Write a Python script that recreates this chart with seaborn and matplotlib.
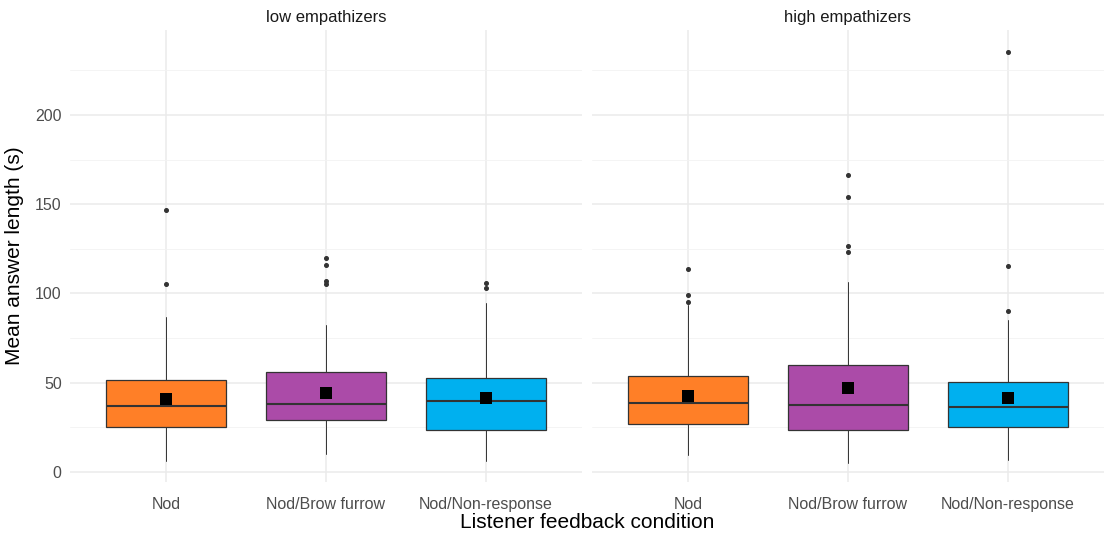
import seaborn as sns
import matplotlib.pyplot as plt
import pandas as pd
from matplotlib.ticker import MultipleLocator

conditions = ["Nod", "Nod/Brow furrow", "Nod/Non-response"]
groups = ["low empathizers", "high empathizers"]
colors = ["#FF7F27", "#AB4BA8", "#00B0EF"]

# box summaries, per condition
low_whislo = [6.3, 9.9, 5.9]
low_q1 = [25.1, 29.3, 23.6]
low_med = [36.9, 38.2, 39.5]
low_q3 = [51.3, 55.9, 52.7]
low_whishi = [86.9, 82.1, 94.9]
low_mean = [40.9, 44.1, 41.4]
low_fliers = [[147.0, 105.3], [120.0, 116.0, 106.8, 105.5], [105.9, 103.2]]

high_whislo = [9.5, 5.3, 6.5]
high_q1 = [27.0, 23.6, 25.3]
high_med = [38.6, 37.6, 36.5]
high_q3 = [53.6, 59.7, 50.6]
high_whishi = [93.5, 106.5, 85.2]
high_mean = [42.4, 47.0, 41.4]
high_fliers = [[113.9, 99.4, 95.1], [166.2, 154.0, 126.6, 123.4], [235.2, 115.2, 90.3]]

panels = {
    "low empathizers": (low_whislo, low_q1, low_med, low_q3, low_whishi, low_mean, low_fliers),
    "high empathizers": (high_whislo, high_q1, high_med, high_q3, high_whishi, high_mean, high_fliers),
}

sns.set_theme(style="whitegrid")
plt.rcParams['font.family'] = ['Liberation Sans', 'DejaVu Sans']

fig = plt.figure(figsize=(11.04, 5.35), dpi=100)
W, H = 1104, 535
ax1 = fig.add_axes([70 / W, (H - 482) / H, 512 / W, 452 / H])
ax2 = fig.add_axes([592 / W, (H - 482) / H, 512 / W, 452 / H], sharey=ax1)

for ax, grp in zip([ax1, ax2], groups):
    wlo, q1, med, q3, whi, mean, fl = panels[grp]
    stats = []
    for i in range(3):
        stats.append(dict(whislo=wlo[i], q1=q1[i], med=med[i], q3=q3[i],
                          whishi=whi[i], fliers=fl[i], label=conditions[i]))
    bp = ax.bxp(stats, positions=[0, 1, 2], widths=0.75, patch_artist=True,
                showcaps=False,
                boxprops=dict(edgecolor="#333333", linewidth=0.9),
                medianprops=dict(color="#333333", linewidth=1.5),
                whiskerprops=dict(color="#333333", linewidth=0.7),
                flierprops=dict(marker="o", markersize=2.6, markerfacecolor="#333333",
                                markeredgecolor="#333333"))
    for patch, c in zip(bp["boxes"], colors):
        patch.set_facecolor(c)
    means = pd.DataFrame({"condition": [0, 1, 2], "mean": mean})
    sns.scatterplot(data=means, x="condition", y="mean", marker="s", s=75,
                    color="black", edgecolor="black", linewidth=0, ax=ax, zorder=5)

    ax.set_xlim(-0.6, 2.6)
    ax.set_ylim(-5.6, 247.6)
    ax.set_xticks([0, 1, 2])
    ax.set_xticklabels(conditions)
    ax.yaxis.set_major_locator(MultipleLocator(50))
    ax.yaxis.set_minor_locator(MultipleLocator(25))
    ax.set_facecolor("white")
    for s in ax.spines.values():
        s.set_visible(False)
    ax.grid(True, which="major", color="#EBEBEB", linewidth=1.1)
    ax.grid(True, which="minor", axis="y", color="#F2F2F2", linewidth=0.6)
    ax.set_axisbelow(True)
    ax.tick_params(axis="both", which="both", length=0, labelsize=11.5,
                   labelcolor="#4D4D4D", pad=6)
    ax.tick_params(axis="x", pad=11)
    ax.set_xlabel("")
    ax.set_ylabel("")
    ax.set_title(grp, fontsize=12, color="#1A1A1A", pad=6)

ax2.tick_params(axis="y", labelleft=False)
ax1.set_ylabel("Mean answer length (s)", fontsize=15, color="black", labelpad=8)
fig.text(587 / W, 1 - 523 / H, "Listener feedback condition", ha="center", va="center",
         fontsize=15, color="black")

plt.savefig("out.png", dpi=100)
